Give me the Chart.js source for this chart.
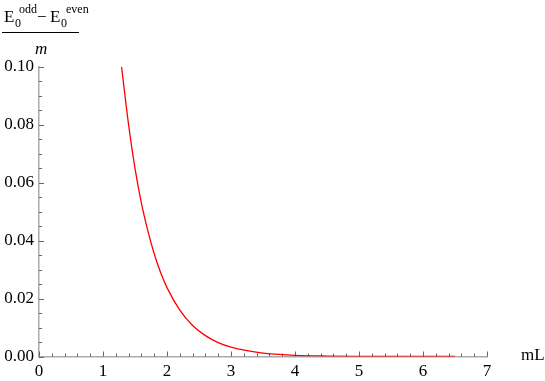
<!DOCTYPE html>
<html>
<head>
<meta charset="utf-8">
<script src="https://cdn.jsdelivr.net/npm/chart.js@4"></script>
<style>
  html, body { margin: 0; padding: 0; background: #fff; }
  #wrap { position: relative; width: 545px; height: 381px; font-family: "Liberation Serif", "Times New Roman", serif; color: #000; }
  #plot { position: absolute; left: 0; top: 0; }
  .t { position: absolute; line-height: 1; white-space: nowrap; }
  .big { font-size: 17px; }
  .sm { font-size: 12px; }
  #frac { position: absolute; left: 2px; top: 32px; width: 77px; height: 1px; background: #000; }
</style>
</head>
<body>
<div id="wrap">
  <canvas id="plot" width="545" height="381"></canvas>
  <!-- y axis label: (E0^odd - E0^even) / m -->
  <span class="t big" style="left:4px;top:8px;">E</span>
  <span class="t sm" style="left:15px;top:17px;">0</span>
  <span class="t sm" style="left:19px;top:3px;">odd</span>
  <span class="t big" style="left:37px;top:8px;">&minus;</span>
  <span class="t big" style="left:50px;top:8px;">E</span>
  <span class="t sm" style="left:61px;top:17px;">0</span>
  <span class="t sm" style="left:66px;top:3px;">even</span>
  <div id="frac"></div>
  <span class="t big" style="left:35px;top:40px;font-style:italic;">m</span>
  <span class="t big" style="left:521px;top:346px;">mL</span>
</div>
<script>
'use strict';

// ── Data ──────────────────────────────────────────────────
const mL   = [1.29, 1.40, 1.50, 1.60, 1.70, 1.80, 1.90, 2.00, 2.20, 2.40, 2.60, 2.80, 3.00, 3.25, 3.50, 3.75, 4.00, 4.50, 5.00, 5.50, 6.00, 6.50];
const gap  = [0.100, 0.0800, 0.0650, 0.0530, 0.0435, 0.0355, 0.0290, 0.0238, 0.0160, 0.0107, 0.0072, 0.0048, 0.0032, 0.0020, 0.0012, 0.0007, 0.0004, 0.00016, 0.00006, 0.00002, 0.00001, 0.0];
const xTickLabels = ['0', '1', '2', '3', '4', '5', '6', '7'];
const yTickLabels = ['0.00', '0.02', '0.04', '0.06', '0.08', '0.10'];

// ── Inward major/minor ticks, Mathematica style ───────────
const innerTicks = {
    id: 'innerTicks',
    beforeDatasetsDraw(chart) {
        const { ctx, scales: { x, y } } = chart;
        ctx.save();
        ctx.strokeStyle = '#666';
        ctx.lineWidth = 1;
        ctx.beginPath();
        for (let i = 0; i <= 35; i++) {
            const px = Math.round(x.getPixelForValue(i / 5)) + 0.5;
            const len = i % 5 === 0 ? 5 : 3;
            ctx.moveTo(px, y.bottom);
            ctx.lineTo(px, y.bottom - len);
        }
        for (let i = 0; i <= 20; i++) {
            const py = Math.round(y.getPixelForValue(i * 0.005)) + 0.5;
            const len = i % 4 === 0 ? 5 : 3;
            ctx.moveTo(x.left, py);
            ctx.lineTo(x.left + len, py);
        }
        ctx.stroke();
        ctx.restore();
    }
};

const tickFont = { family: '"Liberation Serif", "Times New Roman", serif', size: 17 };

new Chart(document.getElementById('plot'), {
    type: 'line',
    data: {
        datasets: [{
            data: mL.map((v, i) => ({ x: v, y: gap[i] })),
            borderColor: '#ff0000',
            borderWidth: 1.3,
            pointRadius: 0,
            fill: false,
            cubicInterpolationMode: 'monotone',
        }]
    },
    options: {
        responsive: false,
        animation: false,
        layout: { padding: { top: 67, right: 58, left: 0, bottom: 0 } },
        plugins: { legend: { display: false }, tooltip: { enabled: false } },
        scales: {
            x: {
                type: 'linear', min: 0, max: 7,
                afterFit: s => { s.height = 24.5; },
                grid: { display: false, drawTicks: false },
                border: { color: '#aaa', width: 1.5 },
                ticks: { stepSize: 1, padding: 5, color: '#000', font: tickFont, maxRotation: 0,
                         callback: v => xTickLabels[v] },
            },
            y: {
                min: 0, max: 0.1,
                afterFit: s => { s.width = 39; },
                grid: { display: false, drawTicks: false },
                border: { color: '#aaa', width: 1.5 },
                ticks: { stepSize: 0.02, padding: 5, color: '#000', font: tickFont,
                         callback: v => yTickLabels[Math.round(v / 0.02)] },
            }
        }
    },
    plugins: [innerTicks]
});
</script>
</body>
</html>
